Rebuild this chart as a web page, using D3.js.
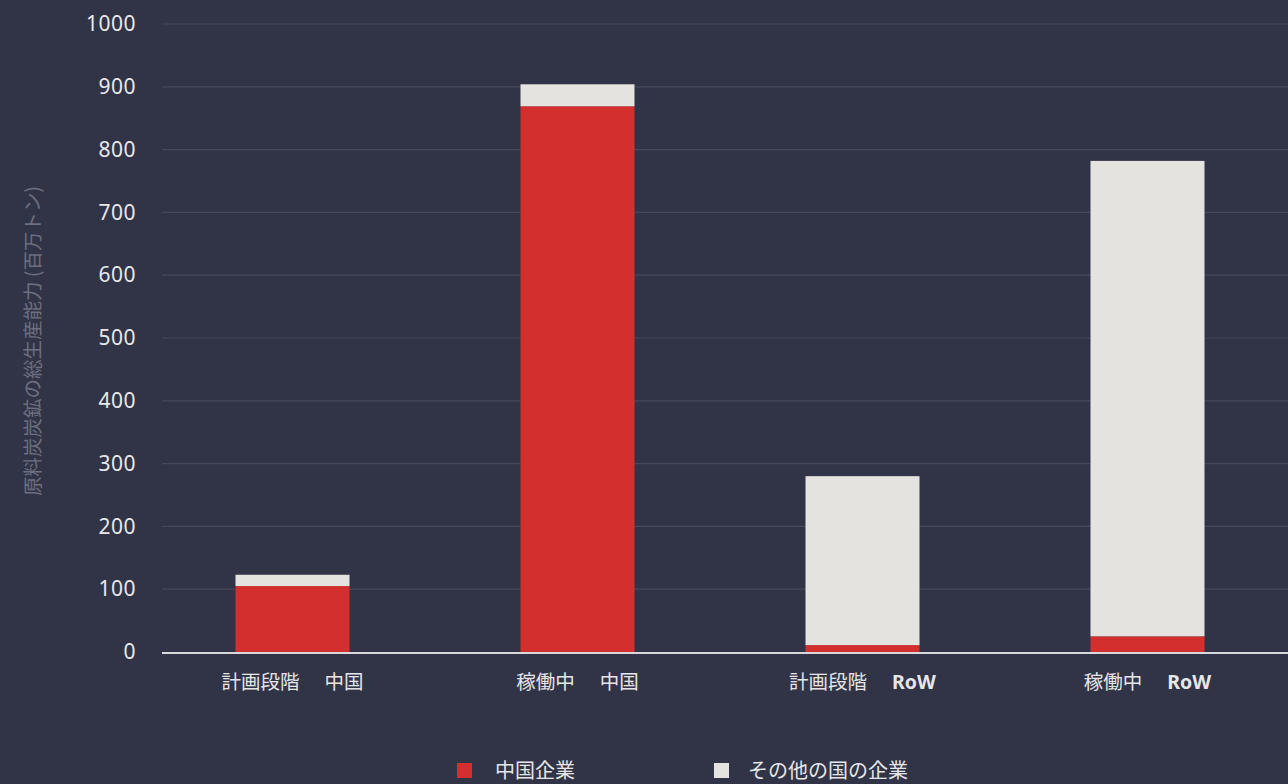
<!DOCTYPE html>
<html>
<head>
<meta charset="utf-8">
<script src="https://cdn.jsdelivr.net/npm/d3@7"></script>
<style>
  html, body { margin: 0; padding: 0; background: #313446; }
  svg { display: block; font-family: "Noto Sans CJK JP", "Noto Sans", sans-serif; }
</style>
</head>
<body>
<div id="chart"></div>
<script>
// categories: stage + region
var stages = ["計画段階", "稼働中", "計画段階", "稼働中"];
var regions = ["中国", "中国", "RoW", "RoW"];
// million tonnes
var chinaCompanies = [105, 869, 11, 25];
var otherCompanies = [18, 35, 269, 757];
var seriesNames = ["中国企業", "その他の国の企業"];
var yTicks = [0, 100, 200, 300, 400, 500, 600, 700, 800, 900, 1000];

var width = 1288, height = 784;
var margin = {top: 24, right: 0, bottom: 132, left: 162};

var colors = ["#d32f2f", "#e4e3e0"];

var data = stages.map(function(s, i) {
    return {key: i, stage: s, region: regions[i], china: chinaCompanies[i], other: otherCompanies[i]};
});

var svg = d3.select("#chart").append("svg")
    .attr("width", width)
    .attr("height", height);

var x = d3.scaleBand()
    .domain(data.map(function(d) { return d.key; }))
    .range([150, 1290])
    .paddingInner(0.6)
    .paddingOuter(0.3);

var y = d3.scaleLinear()
    .domain([0, 1000])
    .range([height - margin.bottom, margin.top]);

// grid
svg.append("g")
    .selectAll("line")
    .data(yTicks.slice(1))
    .enter().append("line")
    .attr("x1", margin.left)
    .attr("x2", width)
    .attr("y1", function(d) { return y(d); })
    .attr("y2", function(d) { return y(d); })
    .attr("stroke", "#45485a")
    .attr("stroke-width", 1.2);

// y axis labels
var yAxis = svg.append("g")
    .attr("transform", "translate(" + 136 + ",0)")
    .call(d3.axisLeft(y).tickValues(yTicks).tickFormat(d3.format("d")).tickSize(0).tickPadding(0));
yAxis.select(".domain").remove();
yAxis.selectAll("text")
    .attr("fill", "#e8e8ea")
    .style("font-family", "'Noto Sans', sans-serif")
    .style("font-size", "21px")
    .style("letter-spacing", "0.5px");

// stacked bars
var stack = d3.stack().keys(["china", "other"]);
var layers = stack(data);

svg.append("g")
    .selectAll("g")
    .data(layers)
    .enter().append("g")
    .attr("fill", function(d, i) { return colors[i]; })
    .selectAll("rect")
    .data(function(d) { return d; })
    .enter().append("rect")
    .attr("x", function(d) { return x(d.data.key); })
    .attr("width", x.bandwidth())
    .attr("y", function(d) { return y(d[1]); })
    .attr("height", function(d) { return y(d[0]) - y(d[1]); });

// baseline
svg.append("line")
    .attr("x1", margin.left)
    .attr("x2", width)
    .attr("y1", y(0) + 1)
    .attr("y2", y(0) + 1)
    .attr("stroke", "#d8d9de")
    .attr("stroke-width", 2);

// x labels
var xl = svg.append("g")
    .selectAll("text")
    .data(data)
    .enter().append("text")
    .attr("x", function(d) { return x(d.key) + x.bandwidth() / 2; })
    .attr("y", 689)
    .attr("text-anchor", "middle")
    .attr("fill", "#e6e6e8")
    .style("font-size", "19.5px");
xl.append("tspan").text(function(d) { return d.stage; });
xl.append("tspan")
    .attr("dx", 25)
    .text(function(d) { return d.region; })
    .style("font-weight", function(d) { return d.region === "RoW" ? "bold" : "normal"; })
    .style("font-family", function(d) { return d.region === "RoW" ? "'Noto Sans', sans-serif" : null; });

// y title
svg.append("text")
    .attr("transform", "translate(40," + 341 + ") rotate(-90)")
    .attr("text-anchor", "middle")
    .attr("fill", "#6c6f80")
    .style("font-size", "19.5px")
    .text("原料炭炭鉱の総生産能力 (百万トン)");

// legend
var legendX = [457, 714];
var legend = svg.append("g")
    .selectAll("g")
    .data(seriesNames)
    .enter().append("g")
    .attr("transform", function(d, i) { return "translate(" + legendX[i] + ",763)"; });
legend.append("rect")
    .attr("width", 15)
    .attr("height", 15)
    .attr("fill", function(d, i) { return colors[i]; });
legend.append("text")
    .attr("x", function(d, i) { return i === 0 ? 38 : 34; })
    .attr("y", 15)
    .attr("fill", "#e6e6e8")
    .style("font-size", "20px")
    .text(function(d) { return d; });
</script>
</body>
</html>
